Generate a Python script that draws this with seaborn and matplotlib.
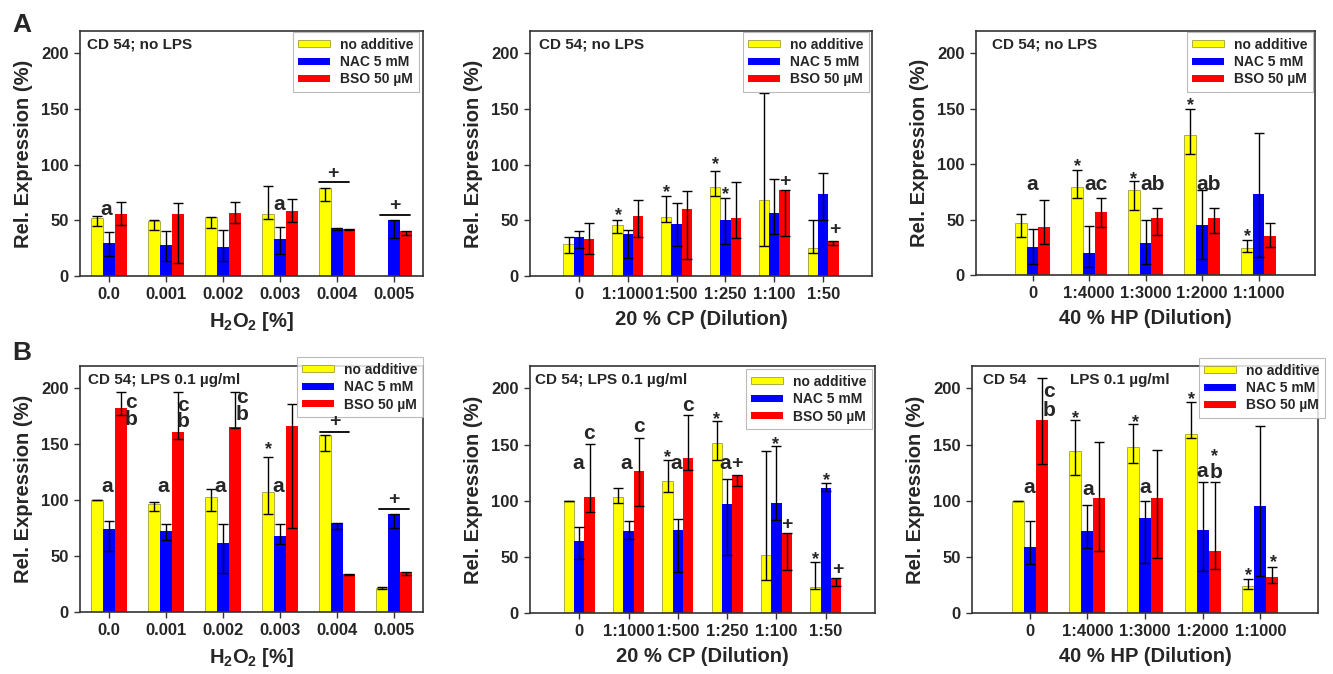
import numpy as np
import pandas as pd
import matplotlib
matplotlib.use("Agg")
import matplotlib.pyplot as plt
import matplotlib.patches as mpatches
import seaborn as sns

# series / colours
treatments = ["no additive", "NAC 5 mM", "BSO 50 µM"]
colors = ["#ffff00", "#0000ff", "#ff0000"]

h2o2_cats = ["0.0", "0.001", "0.002", "0.003", "0.004", "0.005"]
cp_cats = ["0", "1:1000", "1:500", "1:250", "1:100", "1:50"]
hp_cats = ["0", "1:4000", "1:3000", "1:2000", "1:1000"]

# A: no LPS  (rows: no additive, NAC, BSO)
a1_mean = [[52.5, 49, 53, 55.7, 79, 0], [30, 28, 26, 33.4, 43, 50], [55.4, 55.7, 57, 58, 42.6, 40.5]]
a1_lo = [[45, 41.7, 43, 51, 67, np.nan], [18, 13.7, 13.4, 20, 41, 34], [45.6, 12, 48, 48.6, 41.4, 37]]
a1_hi = [[53.6, 50.4, 53, 81, 79, np.nan], [39.6, 40, 41.7, 44, 43, 50], [66.5, 65.6, 66, 69, 42.6, 40.5]]

a2_mean = [[29, 45.6, 52.8, 80, 68.5, 25], [34.6, 38, 46.5, 50.4, 56.6, 74], [32.8, 53.7, 60, 52.5, 77, 31]]
a2_lo = [[21, 39, 48.6, 71.5, 27, 21], [25, 15.8, 27, 29, 37.6, 50], [19.4, 35, 15, 34, 35.5, 27.7]]
a2_hi = [[35, 50.7, 72, 94, 164, 50], [40, 41, 65.6, 70, 86.7, 92.7], [47.7, 68, 76, 84, 77, 31]]

a3_mean = [[47.3, 79.6, 76.3, 126.6, 24.6], [24.9, 19.5, 29.3, 45, 72.8], [43, 56.6, 51.8, 51.8, 35]]
a3_lo = [[34.4, 69.5, 59, 109, 20.4], [10, 7.5, 9.6, 14.7, 16], [28.4, 43.4, 36.5, 38, 25.4]]
a3_hi = [[55.4, 95, 84.4, 150, 31.7], [41.6, 44, 49.4, 77, 128], [68, 69.5, 60, 60, 47]]

# B: LPS 0.1 µg/ml
b1_mean = [[100, 96.7, 103, 107, 158.5, 21.8], [74.6, 72.5, 62, 68.4, 79.4, 87.5], [182, 161, 165.4, 166.6, 34.3, 36]]
b1_lo = [[100, 90.4, 90, 87.5, 144, 21], [54.6, 64, 35, 60.6, 74.6, 75.5], [176.5, 154.7, 165, 75, 33, 33]]
b1_hi = [[100, 98.8, 110, 139, 158.5, 22.5], [81, 79, 78.5, 79, 79.4, 87.5], [197, 197, 197, 186, 34.3, 36]]

b2_mean = [[100, 103.7, 118, 151.4, 52, 23], [64, 72.9, 73.5, 97.2, 97.8, 111], [103.7, 126.5, 137.8, 123, 71, 31.4]]
b2_lo = [[100, 97.8, 107.6, 136.6, 29.6, 21.6], [47.7, 66, 36.4, 51.3, 83, 109], [89.8, 95.7, 127.4, 113.5, 38, 23.7]]
b2_hi = [[100, 111.4, 136, 170.7, 144.6, 45.3], [76.4, 81.5, 83.3, 119.4, 149, 115.6], [150.5, 155.5, 176.6, 123, 71, 31.4]]

b3_mean = [[100, 144.4, 148, 159.8, 24], [58.6, 73.4, 84.6, 74.3, 95.6], [171.6, 102.7, 102.7, 55.6, 32.5]]
b3_lo = [[100, 122.8, 134, 156, 21.6], [43.8, 57.7, 44.7, 37.3, 33.4], [132.5, 55, 49, 38.8, 26.6]]
b3_hi = [[100, 171.6, 168, 187.9, 30.5], [81.7, 96, 100, 117, 166.6], [209.5, 152.4, 145, 117, 41.4]]

# significance marks (category position, y, text)
a1_notes = [(-0.04, 60, "a"), (2.99, 64, "a"), (3.93, 92, "+"), (5.0, 63, "+")]
a2_notes = [(0.81, 58, "*"), (1.8, 79, "*"), (2.79, 104, "*"), (3.01, 77, "*"), (4.22, 85, "+"), (5.23, 42, "+")]
a3_notes = [(0.0, 82, "a"), (0.79, 102, "*"), (1.13, 82, "ac"), (1.79, 90, "*"), (2.13, 82, "ab"),
            (2.8, 157, "*"), (3.11, 82, "ab"), (3.8, 39, "*")]
b1_notes = [(-0.03, 112, "a"), (0.39, 187, "c"), (0.39, 172, "b"),
            (0.96, 112, "a"), (1.3, 185, "c"), (1.3, 170, "b"),
            (1.96, 112, "a"), (2.33, 192, "c"), (2.33, 177, "b"),
            (2.8, 149, "*"), (2.97, 112, "a"), (3.95, 170, "+"), (4.99, 101, "+")]
b2_notes = [(-0.03, 133, "a"), (0.2, 160, "c"), (0.96, 133, "a"), (1.21, 166, "c"),
            (1.8, 142, "*"), (1.96, 133, "a"), (2.21, 185, "c"), (2.78, 176, "*"),
            (2.97, 133, "a"), (3.2, 133, "+"), (3.99, 154, "*"), (4.21, 79, "+"),
            (4.8, 52, "*"), (5.02, 122, "*"), (5.24, 38.5, "+")]
b3_notes = [(0.0, 112, "a"), (0.34, 197, "c"), (0.34, 180, "b"), (0.8, 177, "*"), (1.01, 110, "a"),
            (1.83, 174, "*"), (2.0, 112, "a"), (2.81, 194, "*"), (2.99, 126, "a"),
            (3.2, 143, "*"), (3.23, 125, "b"), (3.8, 37, "*"), (4.22, 49, "*")]

a1_lines = [(3.68, 4.2, 84), (4.74, 5.27, 54.5)]
b1_lines = [(3.69, 4.21, 160.6), (4.73, 5.25, 92)]

W, H = 1333, 674


def px_rect(l, t, r, b):
    return [l / W, 1 - b / H, (r - l) / W, (b - t) / H]


sns.set_style("ticks")
plt.rcParams["font.family"] = ["Liberation Sans", "DejaVu Sans"]
plt.rcParams["font.weight"] = "bold"
plt.rcParams["mathtext.fontset"] = "custom"
plt.rcParams["mathtext.bf"] = "Liberation Sans:bold"
plt.rcParams["mathtext.rm"] = "Liberation Sans:bold"
plt.rcParams["mathtext.default"] = "bf"

fig = plt.figure(figsize=(W / 100, H / 100), dpi=100)

panels = [
    (px_rect(80, 31, 423, 276), h2o2_cats, a1_mean, a1_lo, a1_hi, (-0.5, 5.5), "H$_2$O$_2$ [%]",
     [(0.02, "CD 54; no LPS")], a1_notes, a1_lines, (419, 32)),
    (px_rect(530, 31, 872, 276), cp_cats, a2_mean, a2_lo, a2_hi, (-1, 6), "20 % CP (Dilution)",
     [(0.026, "CD 54; no LPS")], a2_notes, [], (869, 32)),
    (px_rect(976, 31, 1315, 275), hp_cats, a3_mean, a3_lo, a3_hi, (-1, 5), "40 % HP (Dilution)",
     [(0.046, "CD 54; no LPS")], a3_notes, [], (1313, 32)),
    (px_rect(80, 366, 423, 612), h2o2_cats, b1_mean, b1_lo, b1_hi, (-0.5, 5.5), "H$_2$O$_2$ [%]",
     [(0.024, "CD 54; LPS 0.1 µg/ml")], b1_notes, b1_lines, (423, 357)),
    (px_rect(530, 366, 875, 613), cp_cats, b2_mean, b2_lo, b2_hi, (-1, 6), "20 % CP (Dilution)",
     [(0.015, "CD 54; LPS 0.1 µg/ml")], b2_notes, [], (872, 369)),
    (px_rect(972, 366, 1318, 613), hp_cats, b3_mean, b3_lo, b3_hi, (-1, 5), "40 % HP (Dilution)",
     [(0.032, "CD 54"), (0.283, "LPS 0.1 µg/ml")], b3_notes, [], (1325, 358)),
]

for rect, cats, mean, lo, hi, xlim, xlabel, texts, notes, lines, leg_xy in panels:
    ax = fig.add_axes(rect)
    rows = []
    for t, trt in enumerate(treatments):
        for c, cat in enumerate(cats):
            rows.append({"cat": cat, "trt": trt, "val": mean[t][c]})
    df = pd.DataFrame(rows)
    sns.barplot(data=df, x="cat", y="val", hue="trt", order=cats, hue_order=treatments,
                palette=colors, width=0.63, errorbar=None, legend=False, ax=ax,
                linewidth=0.6, edgecolor="none", saturation=1)

    bar_conts = list(ax.containers)
    for t, cont in enumerate(bar_conts):
        for c, bar in enumerate(cont):
            if t == 0:
                bar.set_edgecolor("#a0a040")
            if mean[t][c] <= 0:
                bar.set_visible(False)
            xc = bar.get_x() + bar.get_width() / 2
            m, l, h = mean[t][c], lo[t][c], hi[t][c]
            if np.isnan(l) or m <= 0:
                continue
            ax.errorbar(xc, m, yerr=[[max(m - l, 0)], [max(h - m, 0)]], fmt="none",
                        ecolor="black", elinewidth=1.0, capsize=3.5, capthick=1.0, zorder=5)

    for x, y, s in notes:
        if s == "*":
            ax.text(x, y - 4, s, ha="center", va="center", fontsize=13, fontweight="bold", zorder=6)
        elif s == "+":
            ax.text(x, y, s, ha="center", va="center", fontsize=14, fontweight="bold", zorder=6)
        else:
            ax.text(x, y, s, ha="center", va="center", fontsize=15, fontweight="bold", zorder=6)
    for x0, x1, y in lines:
        ax.plot([x0, x1], [y, y], color="black", lw=1.3, zorder=6)

    for tx, s in texts:
        ax.text(tx, 0.943, s, transform=ax.transAxes, ha="left", va="center",
                fontsize=11, fontweight="bold")

    ax.set_xlim(*xlim)
    ax.set_ylim(0, 220)
    ax.set_yticks([0, 50, 100, 150, 200])
    ax.set_xticks(range(len(cats)))
    ax.set_xticklabels(cats)
    ax.tick_params(axis="both", direction="out", length=4, width=1, pad=4,
                   labelsize=12, color="#333333")
    for lab in ax.get_xticklabels() + ax.get_yticklabels():
        lab.set_fontweight("bold")
    for sp in ax.spines.values():
        sp.set_visible(True)
        sp.set_color("#333333")
        sp.set_linewidth(1.2)
    ax.set_xlabel(xlabel, fontsize=14.5, fontweight="bold", labelpad=6)
    ax.set_ylabel("Rel. Expression (%)", fontsize=14.5, fontweight="bold", labelpad=6)

    handles = [mpatches.Patch(facecolor=col, edgecolor=("#a0a040" if i == 0 else "none"), lw=0.6, label=trt)
               for i, (col, trt) in enumerate(zip(colors, treatments))]
    leg = ax.legend(handles=handles, loc="upper right",
                    bbox_to_anchor=(leg_xy[0] / W, 1 - leg_xy[1] / H),
                    bbox_transform=fig.transFigure, frameon=True, fancybox=False,
                    fontsize=10, handlelength=2.3, handleheight=0.4, handletextpad=0.7,
                    labelspacing=0.25, borderpad=0.4, borderaxespad=0)
    leg.get_frame().set_edgecolor("#aaaaaa")
    leg.get_frame().set_linewidth(0.8)
    for txt in leg.get_texts():
        txt.set_fontweight("bold")

fig.text(22 / W, 1 - 25 / H, "A", fontsize=19, fontweight="bold", ha="center", va="center")
fig.text(22 / W, 1 - 353 / H, "B", fontsize=19, fontweight="bold", ha="center", va="center")

fig.savefig("out.png", dpi=100)
